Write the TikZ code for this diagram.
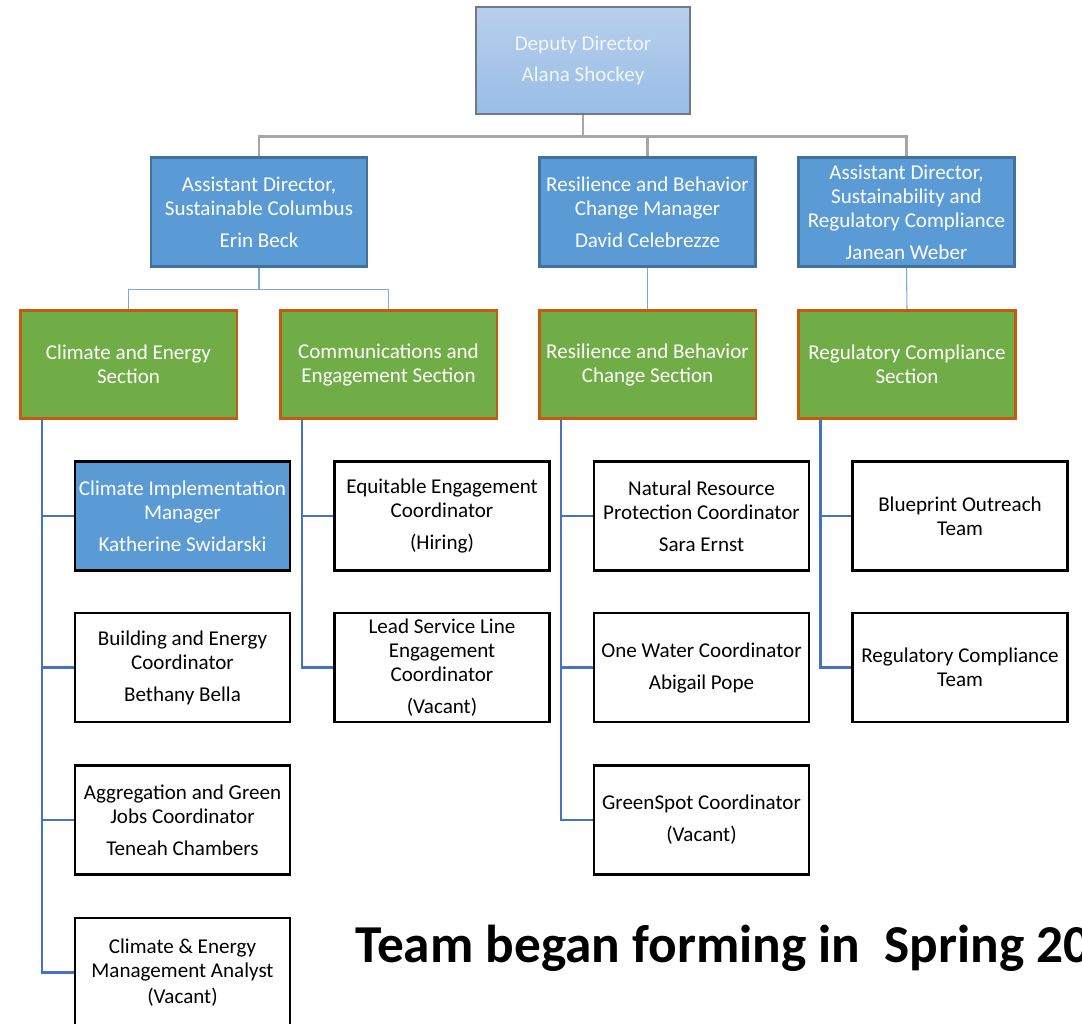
\documentclass[tikz,border=0pt]{standalone}
\usepackage{fontspec}
\setmainfont{Carlito}
\usepackage{tikz}

\definecolor{deptop}{RGB}{184,207,236}
\definecolor{depbot}{RGB}{152,189,230}
\definecolor{depline}{RGB}{112,122,136}
\definecolor{headblue}{RGB}{91,155,213}
\definecolor{headline}{RGB}{65,113,156}
\definecolor{secgreen}{RGB}{112,173,71}
\definecolor{secline}{RGB}{197,90,17}
\definecolor{graylink}{RGB}{166,166,166}
\definecolor{thinblue}{RGB}{120,170,220}
\definecolor{spineblue}{RGB}{68,114,196}

\begin{document}
\begin{tikzpicture}[x=0.75pt,y=0.75pt,yscale=-1,xscale=1,
    every node/.style={font=\fontsize{15.8}{18}\selectfont, align=center, inner sep=0pt},
    depbox/.style={draw=depline, line width=1.2pt, top color=deptop, bottom color=depbot,
        text={rgb,255:red,241;green,246;blue,252}, minimum width=160.5pt, minimum height=80.25pt},
    headbox/.style={draw=headline, line width=1.6pt, fill=headblue, text=white,
        minimum width=162pt, minimum height=81.75pt},
    secbox/.style={draw=secline, line width=2pt, fill=secgreen, text=white,
        minimum width=162.5pt, minimum height=81pt},
    posbox/.style={draw=black, line width=1.8pt, fill=white, text=black,
        minimum width=161.25pt, minimum height=81.75pt},
    grayline/.style={draw=graylink, line width=2pt},
    thinline/.style={draw=thinblue, line width=0.8pt},
    spine/.style={draw=spineblue, line width=1.8pt}
]

    %set diagram to 1082 x 1024
    \clip (0,0) rectangle (1082,1024);

    %Shape: Rectangle (deputy director)
    \node[depbox] (dep) at (583,60.5) {Deputy Director\\[5pt]Alana Shockey};

    %Shape: Rectangle (assistant directors and manager)
    \node[headbox] (adsc) at (259,212) {Assistant Director,\\Sustainable Columbus\\[6pt]Erin Beck};
    \node[headbox] (mgrrb) at (647.5,212) {Resilience and Behavior\\Change Manager\\[6pt]David Celebrezze};
    \node[headbox] (adsr) at (906.5,212) {Assistant Director,\\Sustainability and\\Regulatory Compliance\\[6pt]Janean Weber};

    %Shape: Rectangle (sections)
    \node[secbox] (secce) at (128.5,364.5) {Climate and Energy\\Section};
    \node[secbox] (seccom) at (388.5,364.5) {Communications and\\Engagement Section};
    \node[secbox] (secrb) at (647.5,364.5) {Resilience and Behavior\\Change Section};
    \node[secbox] (secrc) at (907,364.5) {Regulatory Compliance\\Section};

    %Shape: Rectangle (climate and energy staff)
    \node[posbox, fill=headblue, text=white] (cim) at (182.5,516) {Climate Implementation\\Manager\\[6pt]Katherine Swidarski};
    \node[posbox] (bec) at (182.5,667.5) {Building and Energy\\Coordinator\\[6pt]Bethany Bella};
    \node[posbox] (agj) at (182.5,820) {Aggregation and Green\\Jobs Coordinator\\[6pt]Teneah Chambers};
    \node[posbox] (cema) at (182.5,972.5) {Climate \& Energy\\Management Analyst\\[1.5pt](Vacant)};

    %Shape: Rectangle (communications staff)
    \node[posbox] (eec) at (442,516) {Equitable Engagement\\Coordinator\\[6pt](Hiring)};
    \node[posbox] (lsl) at (442,667.5) {Lead Service Line\\Engagement\\Coordinator\\[6pt](Vacant)};

    %Shape: Rectangle (resilience staff)
    \node[posbox] (nrp) at (701.5,516) {Natural Resource\\Protection Coordinator\\[6pt]Sara Ernst};
    \node[posbox] (owc) at (701.5,667.5) {One Water Coordinator\\[6pt]Abigail Pope};
    \node[posbox] (gsc) at (701.5,820) {GreenSpot Coordinator\\[6pt](Vacant)};

    %Shape: Rectangle (compliance teams)
    \node[posbox] (bot) at (960,516) {Blueprint Outreach\\Team};
    \node[posbox] (rct) at (960,667.5) {Regulatory Compliance\\Team};

    %Straight Lines (gray)
    \draw[grayline] (dep.south) -- ++(0,22) -| (adsc.north);
    \draw[grayline] (dep.south) -- ++(0,22) -| (mgrrb.north);
    \draw[grayline] (dep.south) -- ++(0,22) -| (adsr.north);

    %Straight Lines (thin blue)
    \draw[thinline] (adsc.south) -- ++(0,22) -| (secce.north);
    \draw[thinline] (adsc.south) -- ++(0,22) -| (seccom.north);
    \draw[thinline] (mgrrb.south) -- (secrb.north);
    \draw[thinline] (adsr.south) -- (secrc.north);

    %Straight Lines (spines)
    \foreach \s/\p in {secce/cim, secce/bec, secce/agj, secce/cema,
                       seccom/eec, seccom/lsl,
                       secrb/nrp, secrb/owc, secrb/gsc,
                       secrc/bot, secrc/rct}
        \draw[spine] ([xshift=17.5pt]\s.south west) |- (\p.west);

    %Text
    \node[anchor=base west, font=\fontsize{40}{45}\selectfont\bfseries] (note) at (355,962) {Team began forming in\ \ Spring 20};

\end{tikzpicture}
\end{document}
